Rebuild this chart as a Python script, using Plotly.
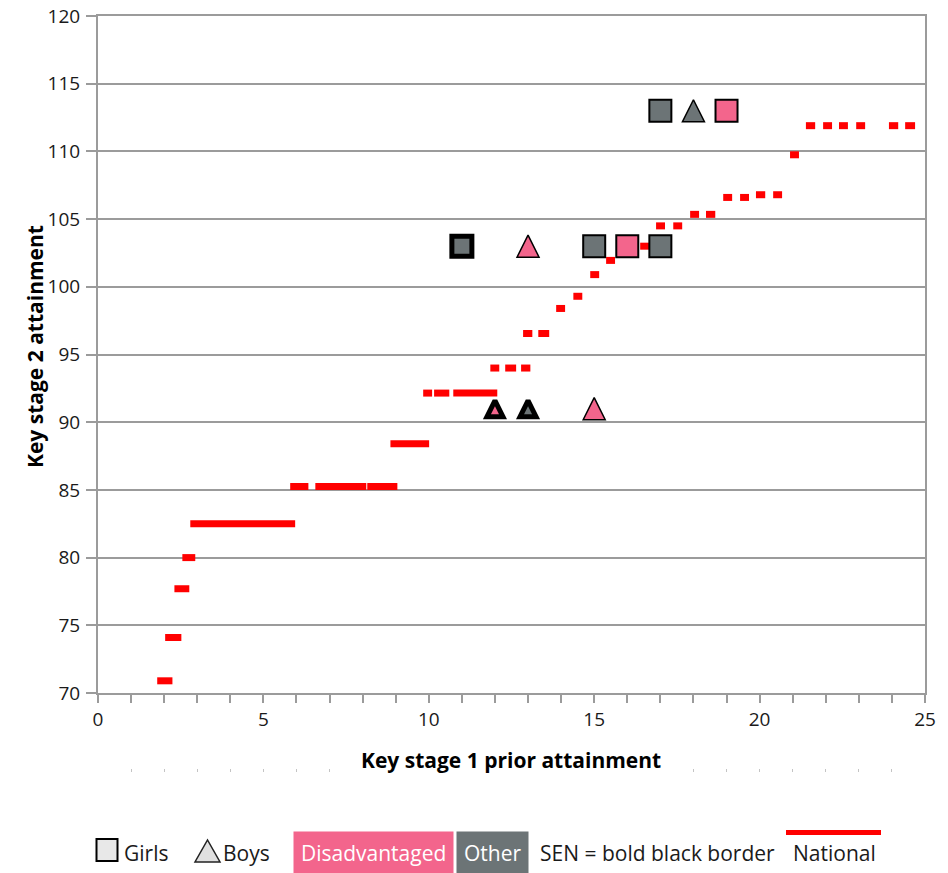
import plotly.graph_objects as go

# ---------------- data ----------------
# National average KS2 attainment, drawn as short horizontal segments
nat_start = [1.79, 2.03, 2.31, 2.55, 2.79, 5.81, 6.57, 8.14, 8.84, 9.83, 10.16, 10.74,
             11.86, 12.31, 12.79, 12.85, 13.31, 13.85, 14.37, 14.88, 15.36, 16.39,
             16.87, 17.39, 17.90, 18.38, 18.90, 19.41, 19.89, 20.41, 20.92, 21.40,
             21.92, 22.40, 22.92, 23.91, 24.40]
nat_end = [2.25, 2.52, 2.76, 2.94, 5.96, 6.36, 8.11, 9.05, 10.01, 10.10, 10.62, 12.07,
           12.13, 12.64, 13.07, 13.13, 13.64, 14.12, 14.64, 15.15, 15.63, 16.66,
           17.14, 17.66, 18.17, 18.66, 19.17, 19.68, 20.17, 20.68, 21.19, 21.68,
           22.19, 22.67, 23.19, 24.19, 24.70]
nat_ks2 = [70.9, 74.1, 77.7, 80.0, 82.5, 85.25, 85.25, 85.25, 88.4, 92.15, 92.15, 92.15,
           94.0, 94.0, 94.0, 96.55, 96.55, 98.4, 99.3, 100.9, 101.95, 103.0,
           104.5, 104.5, 105.35, 105.35, 106.6, 106.6, 106.8, 106.8, 109.75, 111.9,
           111.9, 111.9, 111.9, 111.9, 111.9]

# Pupils
pupil_ks1 = [11, 15, 16, 17, 17, 19, 13, 18, 12, 13, 15]
pupil_ks2 = [103, 103, 103, 103, 113, 113, 103, 113, 91, 91, 91]
pupil_gender = ["Girl", "Girl", "Girl", "Girl", "Girl", "Girl",
                "Boy", "Boy", "Boy", "Boy", "Boy"]
pupil_group = ["Other", "Other", "Disadvantaged", "Other", "Other", "Disadvantaged",
               "Disadvantaged", "Other", "Disadvantaged", "Other", "Disadvantaged"]
pupil_sen = [True, False, False, False, False, False,
             False, False, True, True, False]

x_ticks = [0, 5, 10, 15, 20, 25]
y_ticks = [70, 75, 80, 85, 90, 95, 100, 105, 110, 115, 120]

# ---------------- styles ----------------
PINK = "#F3658C"
GREY = "#6C7476"
RED = "#FF0000"
AXIS = "#9B9B9B"
TXT = "#1a1a1a"
FONT = "Open Sans"
GROUP_COL = {"Disadvantaged": PINK, "Other": GREY}

W, H = 948, 873
OFF = 8  # page body margin
# margins expressed in figure pixels (page position minus body offset)
L = 98 - OFF
T = 16 - OFF
R = W - (925 - OFF)
B = H - (780 - OFF)
PW, PH = W - L - R, H - T - B


def fx(px):  # page x -> paper
    return (px - OFF - L) / PW


def fy(py):  # page y -> paper
    return (H - B - (py - OFF)) / PH


fig = go.Figure()

# National segments
nx, ny = [], []
for a, b, v in zip(nat_start, nat_end, nat_ks2):
    nx += [a, b, None]
    ny += [v, v, None]
fig.add_trace(go.Scatter(x=nx, y=ny, mode="lines", line=dict(color=RED, width=7),
                         hoverinfo="skip", showlegend=False))

# Pupils
for gender in ["Girl", "Boy"]:
    idx = [i for i, g in enumerate(pupil_gender) if g == gender]
    xs = [pupil_ks1[i] for i in idx]
    ys = [pupil_ks2[i] for i in idx]
    cols = [GROUP_COL[pupil_group[i]] for i in idx]
    sen = [pupil_sen[i] for i in idx]
    if gender == "Girl":
        sizes = [20 if s else 22 for s in sen]
        lws = [5 if s else 2 for s in sen]
        marker = dict(symbol="square", size=sizes, color=cols, opacity=1,
                      line=dict(color="black", width=lws))
    else:
        sizes = [16 if s else 22 for s in sen]
        lws = [5 if s else 1.5 for s in sen]
        marker = dict(symbol="arrow-down", angle=180, standoff=[z / 2 for z in sizes],
                      size=sizes, color=cols, opacity=1,
                      line=dict(color="black", width=lws))
    fig.add_trace(go.Scatter(x=xs, y=ys, mode="markers", marker=marker,
                             hoverinfo="skip", showlegend=False))

# dummy trace for the faint secondary tick row
fig.add_trace(go.Scatter(x=[None], y=[None], xaxis="x2", yaxis="y",
                         showlegend=False, hoverinfo="skip"))

fig.update_layout(
    template="none",
    width=W, height=H,
    margin=dict(l=L, r=R, t=T, b=B, pad=0),
    paper_bgcolor="white", plot_bgcolor="white",
    font=dict(family=FONT, size=21, color=TXT),
    showlegend=False,
    xaxis=dict(range=[0, 25], tickvals=x_ticks, showgrid=False, zeroline=False,
               showline=True, linecolor=AXIS, linewidth=2, mirror=True,
               ticks="outside", ticklen=8, tickwidth=2, tickcolor=AXIS,
               minor=dict(dtick=1, ticks="outside", ticklen=8, tickwidth=2, tickcolor=AXIS),
               tickfont=dict(family=FONT, size=19, color=TXT),
               ticklabelstandoff=0, ticklabeloverflow="allow", automargin=False),
    xaxis2=dict(range=[0, 25], overlaying="x", anchor="free", position=fy(768),
                tickvals=list(range(1, 25)), showticklabels=False, showgrid=False,
                zeroline=False, showline=False, ticks="outside", ticklen=3,
                tickwidth=1, tickcolor="#c4c4c4", automargin=False),
    yaxis=dict(range=[70, 120], tickvals=y_ticks, domain=[fy(693), 1],
               showgrid=True, gridcolor=AXIS, gridwidth=2, zeroline=False,
               showline=True, linecolor=AXIS, linewidth=2, mirror=True,
               ticks="outside", ticklen=10, tickwidth=2, tickcolor=AXIS,
               tickfont=dict(family=FONT, size=19, color=TXT),
               ticklabelstandoff=2, ticklabeloverflow="allow", automargin=False),
)

ann = []
ann.append(dict(text="<b>Key stage 1 prior attainment</b>", x=fx(511), y=fy(760),
                xref="paper", yref="paper", xanchor="center", yanchor="middle",
                showarrow=False, bgcolor="white", font=dict(size=21, color="black")))
ann.append(dict(text="<b>Key stage 2 attainment</b>", x=fx(35), y=fy(347),
                xref="paper", yref="paper", xanchor="center", yanchor="middle",
                textangle=-90, showarrow=False, font=dict(size=21, color="black")))
ly = fy(853)
ann.append(dict(text="Girls", x=fx(122), y=ly, xref="paper", yref="paper",
                xanchor="left", yanchor="middle", showarrow=False))
ann.append(dict(text="Boys", x=fx(221), y=ly, xref="paper", yref="paper",
                xanchor="left", yanchor="middle", showarrow=False))
ann.append(dict(text="Disadvantaged", x=fx(373.5), y=ly, xref="paper", yref="paper",
                xanchor="center", yanchor="middle", showarrow=False, bgcolor=PINK,
                borderpad=7, font=dict(color="white", size=21)))
ann.append(dict(text="Other", x=fx(492.5), y=ly, xref="paper", yref="paper",
                xanchor="center", yanchor="middle", showarrow=False, bgcolor=GREY,
                borderpad=7, font=dict(color="white", size=21)))
ann.append(dict(text="SEN = bold black border", x=fx(538), y=ly, xref="paper", yref="paper",
                xanchor="left", yanchor="middle", showarrow=False))
ann.append(dict(text="National", x=fx(791), y=ly, xref="paper", yref="paper",
                xanchor="left", yanchor="middle", showarrow=False))

shapes = []
shapes.append(dict(type="rect", xref="paper", yref="paper", x0=fx(96.5), x1=fx(117.5),
                   y0=fy(861), y1=fy(839), fillcolor="#e8e8e8",
                   line=dict(color="black", width=2)))
shapes.append(dict(type="path", xref="paper", yref="paper",
                   path=f"M{fx(195)},{fy(862)} L{fx(220)},{fy(862)} L{fx(207.5)},{fy(840)} Z",
                   fillcolor="#e0e0e0", line=dict(color="#222", width=1.5)))
shapes.append(dict(type="line", xref="paper", yref="paper", x0=fx(786), x1=fx(881),
                   y0=fy(832.5), y1=fy(832.5), line=dict(color=RED, width=5)))

fig.update_layout(annotations=ann, shapes=shapes)

fig.write_html("out.html")
